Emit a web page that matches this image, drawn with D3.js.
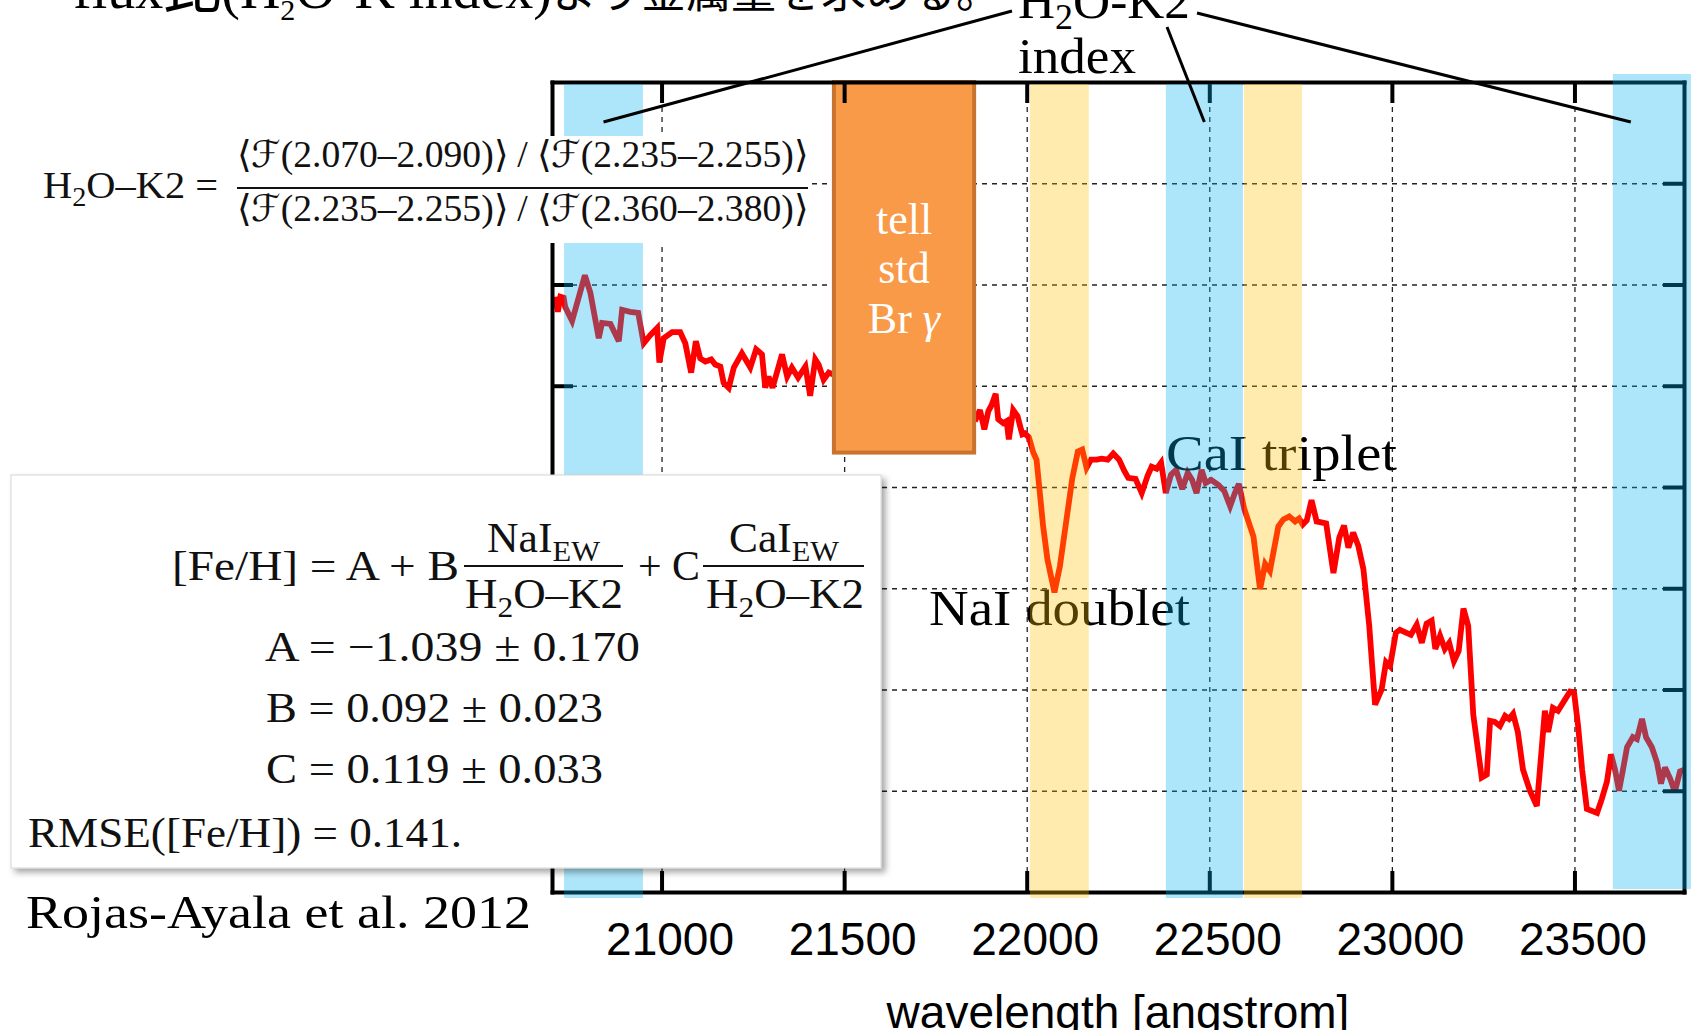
<!DOCTYPE html>
<html><head><meta charset="utf-8">
<script src="https://cdn.jsdelivr.net/npm/d3@7"></script>
<style>
html,body{margin:0;padding:0;background:#fff;overflow:hidden}
svg{display:block}
</style></head><body>
<svg id="c" width="1691" height="1030"></svg>
<script>
// ---------------- data ----------------
const xDomain = [20700, 23800];
const yDomain = [0.6, 1.4];
const xTicks = [21000, 21500, 22000, 22500, 23000, 23500];
const yTicks = [0.7, 0.8, 0.9, 1.0, 1.1, 1.2, 1.3];
const indexBands = [[20733, 20949], [22381, 22592], [23605, 23819]];   // H2O-K2 index windows (blue)
const featureBands = [[22009, 22170], [22595, 22754]];                  // NaI doublet, CaI triplet (yellow)
const tellRange = [21472, 21856];
const tellFlux = [1.034, 1.4];

const wavelength = [
 20709,20716,20723,20732,20736,20755,20790,20805,20828,20837,
 20860,20883,20892,20914,20936,20951,20969,20988,20994,21006,
 21029,21051,21065,21081,21094,21106,21120,21136,21147,21161,
 21170,21184,21198,21220,21243,21259,21275,21284,21293,21304,
 21330,21344,21357,21374,21394,21407,21421,21430,21444,21458,21471,
 21660,
 21858,21872,21884,21895,21904,21915,21922,21936,21945,21951,
 21963,21975,21982,21988,21995,22006,22018,22027,22045,22057,
 22076,22091,22109,22125,22140,22152,22164,22176,22192,22205,
 22222,22237,22253,22267,22278,22298,22315,22331,22342,22356,
 22368,22381,22395,22409,22426,22441,22453,22465,22479,22490,
 22505,22525,22541,22557,22570,22581,22596,22621,22639,22653,
 22666,22689,22703,22719,22735,22746,22756,22767,22780,22794,
 22820,22840,22856,22869,22881,22894,22908,22922,22938,22954,
 22972,22984,22995,23011,23022,23052,23068,23082,23095,23109,
 23119,23132,23145,23157,23170,23183,23196,23209,23223,23246,
 23260,23269,23282,23296,23310,23321,23332,23345,23359,23378,
 23397,23419,23428,23441,23455,23474,23488,23499,23510,23521,
 23534,23562,23575,23589,23600,23611,23622,23633,23644,23660,
 23671,23685,23696,23712,23726,23737,23748,23762,23775,23789,23803
];
const flux = [
 1.188,1.173,1.188,1.187,1.178,1.164,1.209,1.192,1.147,1.162,
 1.161,1.144,1.175,1.173,1.172,1.142,1.150,1.157,1.123,1.147,
 1.153,1.153,1.142,1.113,1.144,1.127,1.124,1.126,1.121,1.119,
 1.103,1.098,1.118,1.132,1.118,1.136,1.131,1.098,1.109,1.098,
 1.131,1.109,1.118,1.108,1.119,1.090,1.126,1.121,1.106,1.113,1.111,
 null,
 1.065,1.076,1.057,1.075,1.081,1.092,1.067,1.063,1.065,1.047,
 1.076,1.070,1.060,1.052,1.053,1.049,1.034,1.027,0.961,0.928,
 0.896,0.922,0.968,1.009,1.035,1.037,1.019,1.027,1.027,1.028,
 1.027,1.033,1.027,1.016,1.009,1.008,0.994,1.011,1.020,1.018,
 1.024,0.994,1.012,1.017,0.998,1.014,1.007,0.994,1.017,1.004,
 1.007,1.002,0.996,0.981,0.994,1.003,0.978,0.951,0.899,0.924,
 0.917,0.961,0.968,0.971,0.966,0.969,0.963,0.967,0.987,0.966,
 0.964,0.915,0.950,0.962,0.940,0.955,0.942,0.919,0.863,0.785,
 0.800,0.827,0.823,0.856,0.859,0.854,0.864,0.846,0.865,0.868,
 0.840,0.853,0.840,0.846,0.828,0.838,0.880,0.863,0.775,0.713,
 0.716,0.769,0.768,0.764,0.774,0.771,0.776,0.758,0.721,0.700,
 0.685,0.779,0.758,0.782,0.779,0.790,0.798,0.797,0.764,0.721,
 0.682,0.678,0.692,0.709,0.736,0.721,0.700,0.721,0.743,0.753,
 0.751,0.771,0.753,0.743,0.728,0.707,0.723,0.712,0.699,0.719,0.721
];

// ---------------- drawing ----------------
const svg = d3.select("#c");
const serif = "'Liberation Serif','Times New Roman',serif";
const sans = "'Liberation Sans',Arial,sans-serif";
const cjk = "'Noto Sans CJK JP','Noto Sans CJK SC',sans-serif";

svg.append("rect").attr("width",1691).attr("height",1030).attr("fill","#fff");
const defs = svg.append("defs");
defs.append("filter").attr("id","sh").attr("x","-5%").attr("y","-5%").attr("width","115%").attr("height","120%")
  .append("feDropShadow").attr("dx",4).attr("dy",4).attr("stdDeviation",3)
  .attr("flood-color","#000").attr("flood-opacity",0.35);

const x = d3.scaleLinear().domain(xDomain).range([552, 1684]);
const y = d3.scaleLinear().domain(yDomain).range([892, 82]);
const [L, R] = x.range(), [B, T] = y.range();

// grid
svg.append("g").attr("transform",`translate(0,${B})`)
  .call(d3.axisBottom(x).tickValues(xTicks).tickSize(-(B-T)).tickFormat(""))
  .call(g=>g.select(".domain").remove())
  .selectAll("line").attr("stroke","#222").attr("stroke-width",1.3).attr("stroke-dasharray","5,5");
svg.append("g").attr("transform",`translate(${L},0)`)
  .call(d3.axisLeft(y).tickValues(yTicks).tickSize(-(R-L)).tickFormat(""))
  .call(g=>g.select(".domain").remove())
  .selectAll("line").attr("stroke","#222").attr("stroke-width",1.3).attr("stroke-dasharray","5,5");

// spectrum
const pts = wavelength.map((w,i)=>[w, flux[i]]);
svg.append("path").datum(pts)
  .attr("d", d3.line().defined(d=>d[1]!=null).x(d=>x(d[0])).y(d=>y(d[1])))
  .attr("fill","none").attr("stroke","#ff0000").attr("stroke-width",5.8)
  .attr("stroke-linejoin","miter").attr("stroke-miterlimit",3);

// telluric standard box
const tb = svg.append("g");
tb.append("rect").attr("x",x(tellRange[0])).attr("y",y(tellFlux[1]))
  .attr("width",x(tellRange[1])-x(tellRange[0])).attr("height",y(tellFlux[0])-y(tellFlux[1]))
  .attr("fill","#F99A48").attr("stroke","#C8742F").attr("stroke-width",4);
const tcx = (x(tellRange[0])+x(tellRange[1]))/2;
[["tell",234],["std",283]].forEach(([t,yy])=>{
  tb.append("text").attr("x",tcx).attr("y",yy).attr("text-anchor","middle")
    .attr("font-family",serif).attr("font-size",44).attr("fill","#fff").text(t);
});
const bg = tb.append("text").attr("x",tcx).attr("y",333).attr("text-anchor","middle")
  .attr("font-family",serif).attr("font-size",44).attr("fill","#fff");
bg.append("tspan").text("Br ");
bg.append("tspan").attr("font-style","italic").text("γ");

// feature labels
function txt(p, xx, yy, size, s, len, fam){
  const t = p.append("text").attr("x",xx).attr("y",yy).attr("font-family",fam||serif)
    .attr("font-size",size).attr("fill","#000").text(s);
  if(len) t.attr("textLength",len).attr("lengthAdjust","spacingAndGlyphs");
  return t;
}
txt(svg, 929, 625, 50, "NaI doublet", 261);
txt(svg, 1166, 470, 50, "CaI triplet", 231);

// axes frame
function styleAxis(g){
  g.select(".domain").attr("stroke","#000").attr("stroke-width",4).attr("stroke-linecap","square");
  g.selectAll(".tick line").attr("stroke","#000").attr("stroke-width",4);
}
svg.append("g").attr("transform",`translate(0,${T})`)
  .call(d3.axisTop(x).tickValues(xTicks).tickSizeInner(-21).tickSizeOuter(0).tickFormat(""))
  .call(styleAxis);
svg.append("g").attr("transform",`translate(${L},0)`)
  .call(d3.axisLeft(y).tickValues(yTicks).tickSizeInner(-21).tickSizeOuter(0).tickFormat(""))
  .call(styleAxis);
svg.append("g").attr("transform",`translate(${R},0)`)
  .call(d3.axisRight(y).tickValues(yTicks).tickSizeInner(-21).tickSizeOuter(0).tickFormat(""))
  .call(styleAxis);
const xb = svg.append("g").attr("transform",`translate(0,${B})`)
  .call(d3.axisBottom(x).tickValues(xTicks).tickSizeInner(-21).tickSizeOuter(0).tickFormat(d3.format("d")))
  .call(styleAxis);
xb.selectAll(".tick text").attr("y",63).attr("dy",null).attr("dx",8)
  .attr("font-family",sans).attr("font-size",46).attr("fill","#000");

// x-axis title
svg.append("text").attr("x",(L+R)/2).attr("y",1028).attr("text-anchor","middle")
  .attr("font-family",sans).attr("font-size",46).attr("fill","#000").text("wavelength [angstrom]");

// translucent bands
function bandY(b){ return b[1] > xDomain[1] ? [T-8, B-3] : [T+2, B+6]; }
svg.append("g").selectAll("rect").data(indexBands).join("rect")
  .attr("x",d=>x(d[0])).attr("width",d=>x(d[1])-x(d[0]))
  .attr("y",d=>bandY(d)[0]).attr("height",d=>bandY(d)[1]-bandY(d)[0])
  .attr("fill","rgb(0,176,240)").attr("fill-opacity",0.32);
svg.append("g").selectAll("rect").data(featureBands).join("rect")
  .attr("x",d=>x(d[0])).attr("width",d=>x(d[1])-x(d[0]))
  .attr("y",d=>bandY(d)[0]).attr("height",d=>bandY(d)[1]-bandY(d)[0])
  .attr("fill","rgb(255,192,0)").attr("fill-opacity",0.32);

// rich text helper (subscripts)
function rich(p, xx, yy, size, parts, len){
  const t = p.append("text").attr("x",xx).attr("y",yy).attr("font-family",serif)
    .attr("font-size",size).attr("fill","#111");
  let shifted = false;
  parts.forEach(([s,k])=>{
    const sp = t.append("tspan").text(s);
    if(k==="sub"){ sp.attr("font-size",size*0.7).attr("dy",size*0.22); shifted = true; }
    else if(shifted){ sp.attr("dy",-size*0.22); shifted = false; }
  });
  if(len) t.attr("textLength",len).attr("lengthAdjust","spacingAndGlyphs");
  return t;
}

// H2O-K2 definition (top-left)
const f1 = svg.append("g");
f1.append("rect").attr("x",30).attr("y",136).attr("width",782).attr("height",107).attr("fill","#fff");
rich(f1, 43, 198, 38, [["H"],["2","sub"],["O–K2 ="]], 175);
rich(f1, 237, 167, 37, [["⟨ℱ(2.070–2.090)⟩ / ⟨ℱ(2.235–2.255)⟩"]], 571);
f1.append("line").attr("x1",237).attr("x2",808).attr("y1",188).attr("y2",188).attr("stroke","#111").attr("stroke-width",2);
rich(f1, 237, 221, 37, [["⟨ℱ(2.235–2.255)⟩ / ⟨ℱ(2.360–2.380)⟩"]], 571);

// metallicity relation box
const f2 = svg.append("g");
f2.append("rect").attr("x",11).attr("y",475).attr("width",870).attr("height",393)
  .attr("fill","#fff").attr("stroke","#d6d6d6").attr("stroke-width",1).attr("filter","url(#sh)");
rich(f2, 172, 580, 42, [["[Fe/H] = A + B"]], 287);
rich(f2, 487, 552, 42, [["NaI"],["EW","sub"]], 113);
f2.append("line").attr("x1",464).attr("x2",623).attr("y1",566).attr("y2",566).attr("stroke","#111").attr("stroke-width",2);
rich(f2, 465, 608, 42, [["H"],["2","sub"],["O–K2"]], 158);
rich(f2, 638, 580, 42, [["+ C"]], 62);
rich(f2, 729, 552, 42, [["CaI"],["EW","sub"]], 110);
f2.append("line").attr("x1",703).attr("x2",864).attr("y1",566).attr("y2",566).attr("stroke","#111").attr("stroke-width",2);
rich(f2, 706, 608, 42, [["H"],["2","sub"],["O–K2"]], 158);
rich(f2, 265, 661, 42, [["A = −1.039 ± 0.170"]], 375);
rich(f2, 266, 722, 42, [["B = 0.092 ± 0.023"]], 337);
rich(f2, 266, 783, 42, [["C = 0.119 ± 0.033"]], 337);
rich(f2, 28, 847, 42, [["RMSE([Fe/H]) = 0.141."]], 434);

txt(svg, 26, 928, 46, "Rojas-Ayala et al. 2012", 505);

// annotation: H2O-K2 index windows
const an = svg.append("g").attr("stroke","#000").attr("stroke-width",3);
const c0 = x((indexBands[0][0]+indexBands[0][1])/2);
const c1 = x((indexBands[1][0]+indexBands[1][1])/2);
const c2 = x(indexBands[2][0]) + 18;
an.append("line").attr("x1",c0).attr("y1",122).attr("x2",1012).attr("y2",11);
an.append("line").attr("x1",1167).attr("y1",27).attr("x2",c1).attr("y2",122);
an.append("line").attr("x1",1197).attr("y1",13).attr("x2",c2).attr("y2",122);
rich(svg, 1018, 18, 50, [["H"],["2","sub"],["O-K2"]], 172).attr("fill","#000");
txt(svg, 1018, 73, 50, "index", 118);

// slide title (cut off at top)
const tt = svg.append("text").attr("x",73).attr("y",8).attr("fill","#000").attr("font-family",serif).attr("font-size",56);
tt.append("tspan").text("flux");
tt.append("tspan").attr("font-family",cjk).attr("font-size",58).text("比");
tt.append("tspan").text("(H");
tt.append("tspan").attr("font-size",30).attr("dy",12).text("2");
tt.append("tspan").attr("dy",-12).text("O-K index)");
tt.append("tspan").attr("font-family",cjk).attr("font-size",45).text("より金属量を求める。");
</script>
</body></html>
